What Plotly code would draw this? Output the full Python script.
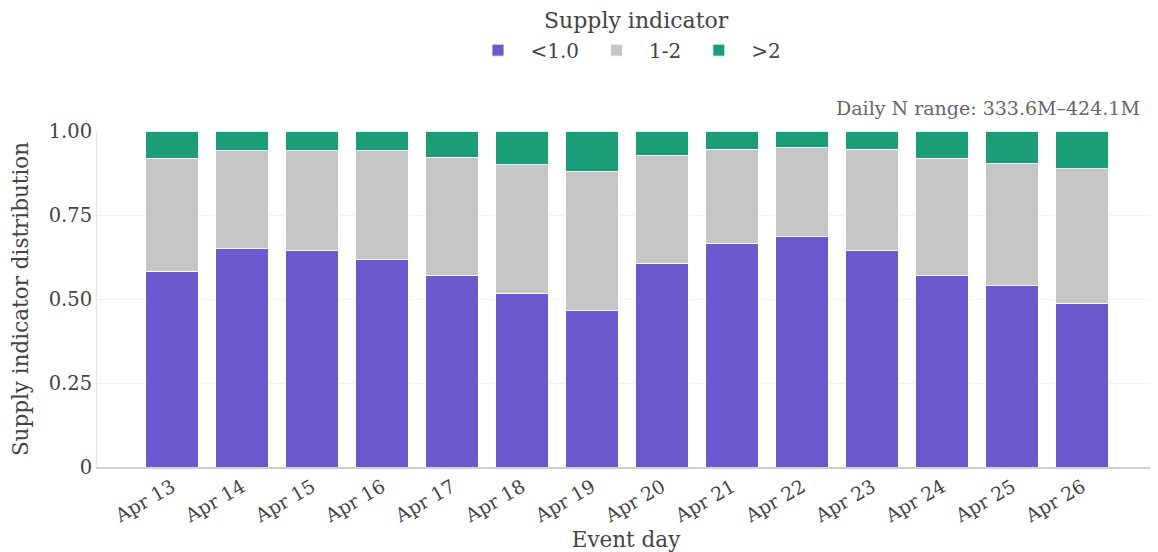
import plotly.graph_objects as go

days = ["Apr 13", "Apr 14", "Apr 15", "Apr 16", "Apr 17", "Apr 18", "Apr 19",
        "Apr 20", "Apr 21", "Apr 22", "Apr 23", "Apr 24", "Apr 25", "Apr 26"]
share_lt1 = [0.583, 0.650, 0.643, 0.619, 0.571, 0.517, 0.465,
             0.607, 0.666, 0.686, 0.643, 0.571, 0.540, 0.488]
share_1_2 = [0.336, 0.291, 0.298, 0.322, 0.351, 0.382, 0.413,
             0.320, 0.279, 0.264, 0.302, 0.348, 0.363, 0.399]
share_gt2 = [0.081, 0.059, 0.059, 0.059, 0.078, 0.101, 0.122,
             0.073, 0.055, 0.050, 0.055, 0.081, 0.097, 0.113]
series_names = ["<1.0", "1-2", ">2"]
series_colors = ["#6A5ACD", "#C6C6C6", "#1B9E77"]
y_ticks = [0, 0.25, 0.5, 0.75, 1.0]
y_tick_text = ["0", "0.25", "0.50", "0.75", "1.00"]
legend_title = "Supply indicator"
note = "Daily N range: 333.6M\u2013424.1M"

FONT = "DejaVu Serif"
fig = go.Figure()
for name, vals, col in zip(series_names, [share_lt1, share_1_2, share_gt2], series_colors):
    fig.add_trace(go.Bar(
        x=days, y=vals, name=name,
        marker=dict(color=col, line=dict(color="rgba(255,255,255,0.85)", width=1)),
    ))

fig.update_layout(
    barmode="stack",
    bargap=0.25,
    width=1158, height=552,
    margin=dict(l=89, r=11, t=123, b=93),
    paper_bgcolor="white", plot_bgcolor="white",
    font=dict(family=FONT, size=19, color="#444"),
    legend=dict(
        orientation="h", x=0.5, xanchor="center",
        yref="container", y=0.959, yanchor="top",
        traceorder="normal",
        font=dict(size=20),
        itemwidth=55,
    ),
    xaxis=dict(
        title=dict(text="Event day", font=dict(size=21.5), standoff=6),
        range=[-1.07, 14.04],
        tickangle=-30,
        tickfont=dict(size=19),
        showline=True, linecolor="#d0d0d0", linewidth=1.5,
        showgrid=False, ticks="",
    ),
    yaxis=dict(
        title=dict(text="Supply indicator distribution", font=dict(size=21.5)),
        range=[0, 1.0],
        tickvals=y_ticks, ticktext=y_tick_text,
        tickfont=dict(size=19.5),
        showgrid=True, gridcolor="#f2f2f2", gridwidth=1,
        showline=True, linecolor="#e6e6e6", linewidth=1,
        zeroline=False, ticks="",
    ),
    annotations=[
        dict(
            text=note, xref="paper", yref="paper", x=1, y=1,
            xanchor="right", yanchor="bottom", xshift=-13, yshift=10,
            showarrow=False, font=dict(size=19, color="#666"),
        ),
        dict(
            text=legend_title, xref="paper", yref="paper", x=0.51, y=1.33,
            xanchor="center", yanchor="middle",
            showarrow=False, font=dict(size=22, color="#444"),
        ),
    ],
)

fig.write_html("out.html")
